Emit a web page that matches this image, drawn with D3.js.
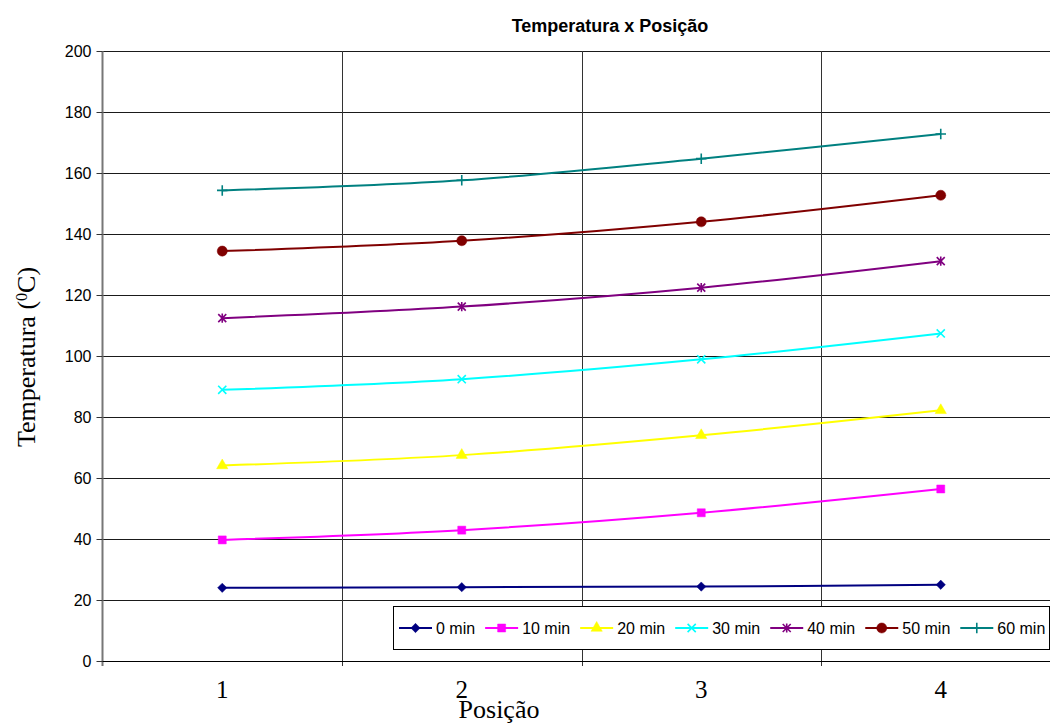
<!DOCTYPE html>
<html>
<head>
<meta charset="utf-8">
<script src="https://cdn.jsdelivr.net/npm/d3@7"></script>
<style>
  body { margin: 0; background: #fff; }
  svg { display: block; }
  .ytick text { font-family: Arial, "Liberation Sans", sans-serif; font-size: 16px; fill: #000; }
  .xtick text { font-family: "Times New Roman", "Liberation Serif", serif; font-size: 25px; fill: #000; }
</style>
</head>
<body>
<svg id="chart" width="1050" height="726"></svg>
<script>
// ---- data ----
const positions = ['1', '2', '3', '4'];
const seriesNames = ['0 min', '10 min', '20 min', '30 min', '40 min', '50 min', '60 min'];
const t0  = [24.0, 24.2, 24.4, 25.0];
const t10 = [39.7, 42.9, 48.6, 56.4];
const t20 = [64.1, 67.5, 74.0, 82.2];
const t30 = [88.9, 92.4, 98.9, 107.4];
const t40 = [112.4, 116.2, 122.4, 131.1];
const t50 = [134.4, 137.8, 144.0, 152.7];
const t60 = [154.3, 157.6, 164.7, 172.8];
const yTicks = [0, 20, 40, 60, 80, 100, 120, 140, 160, 180, 200];

const seriesValues = [t0, t10, t20, t30, t40, t50, t60];

// Excel-style star marker (x with a vertical bar)
const symbolStar = {
  draw(ctx, size) {
    const r = Math.sqrt(size) / 2;
    ctx.moveTo(-r, -r); ctx.lineTo(r, r);
    ctx.moveTo(-r, r); ctx.lineTo(r, -r);
    ctx.moveTo(0, -r * 1.15); ctx.lineTo(0, r * 1.15);
  }
};

const STYLE = {
  '0 min':  { color: '#000080', symbol: d3.symbolDiamond2, size: 55, filled: true },
  '10 min': { color: '#FF00FF', symbol: d3.symbolSquare,   size: 64, filled: true },
  '20 min': { color: '#FFFF00', symbol: d3.symbolTriangle, size: 55, filled: true },
  '30 min': { color: '#00FFFF', symbol: d3.symbolTimes,    size: 45, filled: false },
  '40 min': { color: '#800080', symbol: symbolStar,        size: 64, filled: false },
  '50 min': { color: '#800000', symbol: d3.symbolCircle,   size: 80, filled: true },
  '60 min': { color: '#008080', symbol: d3.symbolPlus,     size: 38, filled: false }
};

const svg = d3.select('#chart');
const plot = { left: 102.5, right: 1060.5, top: 51, bottom: 661 };

const x = d3.scaleBand().domain(positions).range([plot.left, plot.right]).padding(0);
const y = d3.scaleLinear().domain([0, 200]).range([plot.bottom, plot.top]);
const cx = d => x(d) + x.bandwidth() / 2;

// horizontal gridlines
svg.append('g')
  .selectAll('line')
  .data(yTicks.filter(v => v > 0))
  .enter().append('line')
    .attr('x1', plot.left).attr('x2', plot.right)
    .attr('y1', d => Math.round(y(d)) + 0.5).attr('y2', d => Math.round(y(d)) + 0.5)
    .attr('stroke', '#1a1a1a').attr('stroke-width', 1);

// vertical gridlines at category boundaries (with ticks below axis)
svg.append('g')
  .selectAll('line')
  .data(positions.slice(1))
  .enter().append('line')
    .attr('x1', d => Math.round(x(d)) + 0.5).attr('x2', d => Math.round(x(d)) + 0.5)
    .attr('y1', plot.top).attr('y2', plot.bottom + 5)
    .attr('stroke', '#333').attr('stroke-width', 1);

// y axis
const yAxis = svg.append('g')
  .attr('class', 'ytick')
  .attr('transform', `translate(${plot.left},0)`)
  .call(d3.axisLeft(y).tickValues(yTicks).tickSize(6).tickPadding(5));
yAxis.select('.domain').attr('stroke', '#777').attr('stroke-width', 2)
  .attr('d', `M0,${plot.top}V${plot.bottom + 5}`);
yAxis.selectAll('.tick line').attr('stroke', '#333');

// x axis line
svg.append('line')
  .attr('x1', plot.left).attr('x2', plot.right)
  .attr('y1', plot.bottom + 0.5).attr('y2', plot.bottom + 0.5)
  .attr('stroke', '#000').attr('stroke-width', 1.2);

// x tick labels
svg.append('g').attr('class', 'xtick')
  .selectAll('text')
  .data(positions)
  .enter().append('text')
    .attr('x', d => cx(d))
    .attr('y', plot.bottom + 37)
    .attr('text-anchor', 'middle')
    .text(d => d);

// series lines + markers
const line = d3.line()
  .x((d, i) => cx(positions[i]))
  .y(d => y(d))
  .curve(d3.curveCatmullRom.alpha(0.5));

seriesNames.forEach((name, si) => {
  const st = STYLE[name];
  const vals = seriesValues[si];
  svg.append('path')
    .datum(vals)
    .attr('fill', 'none')
    .attr('stroke', st.color)
    .attr('stroke-width', 2)
    .attr('d', line);

  svg.append('g')
    .selectAll('path')
    .data(vals)
    .enter().append('path')
      .attr('transform', (d, i) => `translate(${cx(positions[i])},${y(d)})`)
      .attr('d', d3.symbol().type(st.symbol).size(st.size))
      .attr('fill', st.filled ? st.color : 'none')
      .attr('stroke', st.color)
      .attr('stroke-width', st.filled ? 0.5 : 1.6);
});

// legend: entries flow left to right, each sized by its text
const legend = svg.append('g');
legend.append('rect')
  .attr('x', 393.5).attr('y', 606.5)
  .attr('width', 656).attr('height', 43)
  .attr('fill', '#fff').attr('stroke', '#000').attr('stroke-width', 1);

let gx = 399;
seriesNames.forEach(name => {
  const st = STYLE[name];
  const item = legend.append('g').attr('transform', `translate(${gx},628)`);
  item.append('line')
    .attr('x1', 0).attr('x2', 33).attr('y1', 0).attr('y2', 0)
    .attr('stroke', st.color).attr('stroke-width', 2);
  item.append('path')
    .attr('transform', 'translate(16.5,0)')
    .attr('d', d3.symbol().type(st.symbol).size(st.size))
    .attr('fill', st.filled ? st.color : 'none')
    .attr('stroke', st.color)
    .attr('stroke-width', st.filled ? 0.5 : 1.6);
  const txt = item.append('text')
    .attr('x', 37).attr('y', 6)
    .style('font-family', 'Arial, "Liberation Sans", sans-serif')
    .style('font-size', '16px')
    .text(name);
  gx += 37 + txt.node().getComputedTextLength() + 10;
});

// title
svg.append('text')
  .attr('x', 610).attr('y', 32)
  .attr('text-anchor', 'middle')
  .style('font-family', 'Arial, "Liberation Sans", sans-serif')
  .style('font-weight', 'bold')
  .style('font-size', '18px')
  .text('Temperatura x Posição');

// x title
svg.append('text')
  .attr('x', 499).attr('y', 718)
  .attr('text-anchor', 'middle')
  .style('font-family', '"Times New Roman", "Liberation Serif", serif')
  .style('font-size', '26px')
  .text('Posição');

// y title
const yt = svg.append('text')
  .attr('transform', 'translate(35,357) rotate(-90)')
  .attr('text-anchor', 'middle')
  .style('font-family', '"Times New Roman", "Liberation Serif", serif')
  .style('font-size', '26px');
yt.append('tspan').text('Temperatura (');
yt.append('tspan').attr('baseline-shift', 'super').style('font-size', '16px').text('0');
yt.append('tspan').text('C)');
</script>
</body>
</html>
